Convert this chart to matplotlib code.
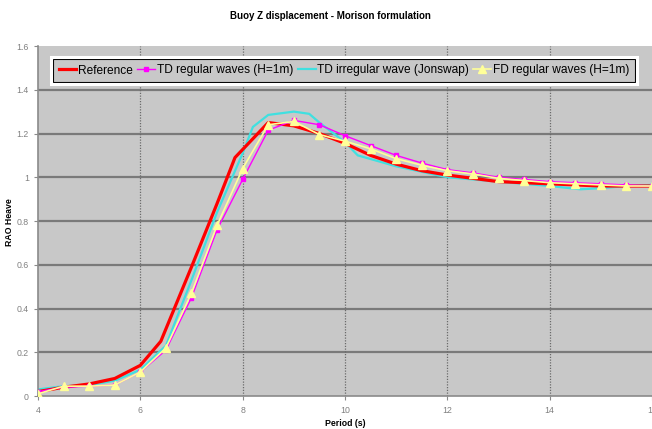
import matplotlib
matplotlib.use("Agg")
import matplotlib.pyplot as plt
from matplotlib.patches import Rectangle

plt.rcParams['font.family'] = ['Liberation Sans', 'DejaVu Sans']

# Reference RAO curve
ref_T = [4, 4.5, 5, 5.5, 6, 6.4, 7, 7.5, 7.85, 8.5, 9, 9.5, 10, 10.5, 11, 11.5, 12, 13, 14, 15, 16]
ref_v = [0.02, 0.04, 0.055, 0.08, 0.14, 0.25, 0.59, 0.88, 1.09, 1.25, 1.235, 1.20, 1.155, 1.10, 1.06, 1.03, 1.01, 0.98, 0.97, 0.96, 0.96]

# Time-domain, regular waves (H=1m)
td_reg_T = [4, 4.5, 5, 5.5, 6, 6.5, 7, 7.5, 8, 8.5, 9, 9.5, 10, 10.5, 11, 11.5, 12, 12.5, 13, 13.5, 14, 14.5, 15, 15.5, 16]
td_reg_v = [0.02, 0.04, 0.045, 0.05, 0.11, 0.21, 0.45, 0.76, 0.99, 1.215, 1.26, 1.24, 1.19, 1.145, 1.10, 1.065, 1.035, 1.02, 1.0, 0.99, 0.98, 0.975, 0.97, 0.965, 0.96]

# Time-domain, irregular wave (Jonswap)
td_irr_T = [4, 4.5, 5, 5.5, 6, 6.5, 7, 7.5, 8, 8.2, 8.5, 9, 9.3, 9.5, 10, 10.25, 11, 12, 13, 14, 14.6, 15, 15.5, 16]
td_irr_v = [0.03, 0.045, 0.05, 0.07, 0.12, 0.23, 0.53, 0.84, 1.11, 1.23, 1.285, 1.30, 1.29, 1.25, 1.16, 1.10, 1.05, 1.0, 0.98, 0.96, 0.945, 0.95, 0.96, 0.965]

# Frequency-domain, regular waves (H=1m)
fd_reg_T = [4, 4.5, 5, 5.5, 6, 6.5, 7, 7.5, 8, 8.5, 9, 9.5, 10, 10.5, 11, 11.5, 12, 12.5, 13, 13.5, 14, 14.5, 15, 15.5, 16]
fd_reg_v = [0.01, 0.045, 0.045, 0.05, 0.11, 0.22, 0.47, 0.78, 1.04, 1.24, 1.255, 1.195, 1.165, 1.13, 1.085, 1.055, 1.03, 1.015, 0.995, 0.985, 0.975, 0.97, 0.965, 0.96, 0.96]

labels = ["Reference", "TD regular waves (H=1m)", "TD irregular wave (Jonswap)", "FD regular waves (H=1m)"]

W, H = 652, 429
fig = plt.figure(figsize=(W / 100, H / 100), dpi=100)
fig.patch.set_facecolor('white')
ax = fig.add_axes([38 / W, 1 - 396 / H, 614 / W, 350 / H])
ax.set_facecolor('#c8c8c8')

ax.set_xlim(4, 16)
ax.set_ylim(0, 1.6)
ax.set_xticks([4, 6, 8, 10, 12, 14, 16])
ax.set_yticks([0, 0.2, 0.4, 0.6, 0.8, 1.0, 1.2, 1.4, 1.6])
ax.set_yticklabels(['0', '0.2', '0.4', '0.6', '0.8', '1', '1.2', '1.4', '1.6'])

# grid: solid horizontal, dotted vertical
for y in [0.2, 0.4, 0.6, 0.8, 1.0, 1.2, 1.4]:
    ax.axhline(y, color='#7a7a7a', lw=1.6, zorder=1)
for x in [6, 8, 10, 12, 14]:
    ax.axvline(x, color='#6a6a6a', lw=0.9, ls=(0, (1, 1.2)), zorder=1)

for s in ['top', 'right']:
    ax.spines[s].set_visible(False)
for s in ['left', 'bottom']:
    ax.spines[s].set_color('#8a8a8a')
    ax.spines[s].set_linewidth(1.2)
ax.tick_params(colors='#8a8a8a', labelcolor='#808080', labelsize=6.3, length=3, width=0.8)
ax.tick_params(axis='x', pad=4)

l1, = ax.plot(ref_T, ref_v, color='#ff0000', lw=2.3, zorder=3, label=labels[0])
l2, = ax.plot(td_reg_T, td_reg_v, color='#ff00ff', lw=1.0, marker='s', ms=2.5, zorder=4, label=labels[1])
l3, = ax.plot(td_irr_T, td_irr_v, color='#40e0e0', lw=1.6, zorder=2, label=labels[2])
l4, = ax.plot(fd_reg_T, fd_reg_v, color='#ffff99', lw=1.2, marker='^', ms=5.5, zorder=5, label=labels[3])

fig.text(330 / W, 1 - 16 / H, "Buoy Z displacement - Morison formulation",
         ha='center', va='center', fontsize=7, fontweight='bold')
fig.text(345 / W, 1 - 423 / H, "Period (s)", ha='center', va='center',
         fontsize=6.3, fontweight='bold')
fig.text(10 / W, 1 - 222 / H, "RAO Heave", ha='center', va='center',
         fontsize=6.3, fontweight='bold', rotation=90)

leg = fig.legend(handles=[l1, l2, l3, l4], loc='center', ncol=4,
                 bbox_to_anchor=(344 / W, 1 - 70.5 / H),
                 frameon=True, fancybox=False,
                 handlelength=1.5, handletextpad=0.15, columnspacing=0.35, borderaxespad=0,
                 borderpad=0.45, prop={'size': 8.6})
leg.get_frame().set_facecolor('#c8c8c8')
leg.get_frame().set_edgecolor('black')
leg.get_frame().set_linewidth(0.8)
leg.get_frame().set_alpha(1)

# white outline around the legend frame
fig.canvas.draw()
bb = leg.get_window_extent().transformed(fig.transFigure.inverted())
pw, ph = 2.5 / W, 2.5 / H
fig.patches.append(Rectangle((bb.x0 - pw, bb.y0 - ph), bb.width + 2 * pw, bb.height + 2 * ph,
                             transform=fig.transFigure, facecolor='none',
                             edgecolor='white', lw=2.2, zorder=10))

fig.savefig('out.png', dpi=100)
